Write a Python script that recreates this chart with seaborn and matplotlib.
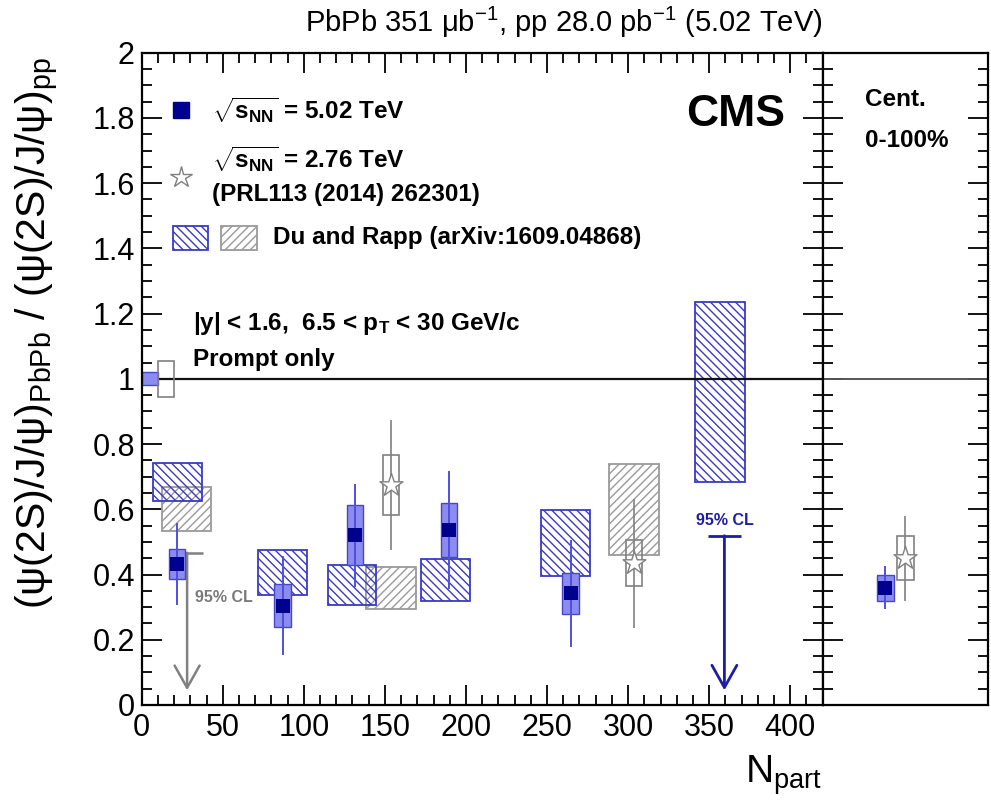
import matplotlib
matplotlib.use('Agg')
import matplotlib.pyplot as plt
import seaborn as sns
import pandas as pd
from matplotlib.patches import Rectangle
from matplotlib.ticker import MultipleLocator, FuncFormatter

# ------------------ data ------------------
npart_502 = [22.0, 86.9, 131.8, 189.5, 264.5]
ratio_502 = [0.432, 0.305, 0.521, 0.537, 0.343]
stat_502 = [0.125, 0.152, 0.158, 0.180, 0.164]
syst_502 = [0.047, 0.065, 0.092, 0.082, 0.063]

ul_npart_502 = [359.4]
ul_value_502 = [0.519]

npart_276 = [154.0, 303.5]
ratio_276 = [0.675, 0.435]
stat_276 = [0.200, 0.198]
syst_276 = [0.092, 0.070]

ul_npart_276 = [28.0]
ul_value_276 = [0.467]

# centrality integrated (0-100%)
int_ratio_502 = [0.36]
int_stat_502 = [0.065]
int_syst_502 = [0.040]
int_ratio_276 = [0.45]
int_stat_276 = [0.130]
int_syst_276 = [0.068]

# global (normalisation) uncertainties at ratio = 1
glob_502 = [0.02]
glob_276 = [0.055]

# Du and Rapp model bands
rapp502_xlo = [6.8, 71.9, 115.0, 172.5, 246.0, 341.5]
rapp502_xhi = [37.0, 101.7, 144.8, 202.3, 276.6, 371.9]
rapp502_ylo = [0.626, 0.337, 0.307, 0.320, 0.397, 0.683]
rapp502_yhi = [0.743, 0.475, 0.429, 0.447, 0.598, 1.237]
rapp276_xlo = [12.3, 138.6, 288.5]
rapp276_xhi = [42.7, 169.0, 319.3]
rapp276_ylo = [0.534, 0.294, 0.460]
rapp276_yhi = [0.667, 0.422, 0.739]

# ------------------ style ------------------
sns.set_theme(style='ticks')
plt.rcParams['font.family'] = ['Liberation Sans', 'DejaVu Sans']
plt.rcParams['mathtext.fontset'] = 'custom'
plt.rcParams['mathtext.rm'] = 'Liberation Sans'
plt.rcParams['mathtext.it'] = 'Liberation Sans:italic'
plt.rcParams['mathtext.bf'] = 'Liberation Sans:bold'
plt.rcParams['mathtext.sf'] = 'Liberation Sans'
plt.rcParams['hatch.linewidth'] = 1.0
plt.rcParams['xtick.color'] = 'black'
plt.rcParams['ytick.color'] = 'black'
plt.rcParams['text.color'] = 'black'

BLUE_DARK = '#00008f'
BLUE_FILL = '#8c8cf0'
BLUE_EDGE = '#4545d0'
BLUE_LINE = '#4f4fe0'
BLUE_HATCH = '#3a3ac4'
GREY = '#808080'
GREY_HATCH = '#9a9a9a'

fig = plt.figure(figsize=(9.91, 8.02), dpi=100)
ax = fig.add_axes([0.14299, 0.12095, 0.68779, 0.81334])
ax2 = fig.add_axes([0.83078, 0.12095, 0.16620, 0.81334], sharey=ax)

XMAX = 420.4
ax.set_xlim(0, XMAX)
ax.set_ylim(0, 2)
ax2.set_xlim(0, 1)

for a in (ax, ax2):
    for s in a.spines.values():
        s.set_linewidth(1.6)
        s.set_color('black')
        s.set_zorder(10)

# ---- Du and Rapp hatched bands ----
for x0, x1, y0, y1 in zip(rapp276_xlo, rapp276_xhi, rapp276_ylo, rapp276_yhi):
    ax.add_patch(Rectangle((x0, y0), x1 - x0, y1 - y0, facecolor='none',
                           edgecolor=GREY_HATCH, hatch='////', lw=1.3, zorder=2))
for x0, x1, y0, y1 in zip(rapp502_xlo, rapp502_xhi, rapp502_ylo, rapp502_yhi):
    ax.add_patch(Rectangle((x0, y0), x1 - x0, y1 - y0, facecolor='none',
                           edgecolor=BLUE_HATCH, hatch='\\\\\\\\', lw=1.3, zorder=2.5))

# ---- unity line ----
ax.axhline(1, color='#111111', lw=1.6, zorder=3)
ax2.axhline(1, color='#555555', lw=1.4, zorder=3)

# ---- global uncertainty boxes ----
ax.add_patch(Rectangle((0, 1 - glob_502[0]), 10, 2 * glob_502[0], facecolor=BLUE_FILL,
                       edgecolor=BLUE_EDGE, lw=1.0, zorder=4))
ax.add_patch(Rectangle((10, 1 - glob_276[0]), 10, 2 * glob_276[0], facecolor='none',
                       edgecolor=GREY, lw=1.2, zorder=4))

HW = 5.0  # half width of syst boxes in Npart units

# ---- 2.76 TeV points ----
for x, y, st, sy in zip(npart_276, ratio_276, stat_276, syst_276):
    ax.vlines(x, y - st, y + st, color=GREY, lw=1.2, zorder=4)
    ax.add_patch(Rectangle((x - HW, y - sy), 2 * HW, 2 * sy, facecolor='none',
                           edgecolor=GREY, lw=1.2, zorder=4))
df276 = pd.DataFrame({'npart': npart_276, 'ratio': ratio_276})
sns.scatterplot(data=df276, x='npart', y='ratio', marker='*', s=300, color='white',
                edgecolor=GREY, linewidth=1.0, ax=ax, zorder=6, legend=False)

# ---- 5.02 TeV points ----
for x, y, st, sy in zip(npart_502, ratio_502, stat_502, syst_502):
    ax.add_patch(Rectangle((x - HW, y - sy), 2 * HW, 2 * sy, facecolor=BLUE_FILL,
                           edgecolor=BLUE_EDGE, lw=1.0, zorder=5))
    ax.vlines(x, y - st, y + st, color=BLUE_LINE, lw=1.4, zorder=5.5)
df502 = pd.DataFrame({'npart': npart_502, 'ratio': ratio_502})
sns.scatterplot(data=df502, x='npart', y='ratio', marker='s', s=115, color=BLUE_DARK,
                edgecolor=BLUE_DARK, linewidth=0, ax=ax, zorder=7, legend=False)

# ---- upper limits ----
ARROW_END = 0.045
for x, lim in zip(ul_npart_276, ul_value_276):
    ax.hlines(lim, x - 10, x + 10, color=GREY, lw=1.8, zorder=4.5)
    ax.annotate('', xy=(x, ARROW_END), xytext=(x, lim),
                arrowprops=dict(arrowstyle='->,head_length=0.8,head_width=0.45',
                                color=GREY, lw=1.8, mutation_scale=20,
                                shrinkA=0, shrinkB=0), zorder=4.5)
    ax.text(x + 4.8, 0.33, '95% CL', color='#7a7a7a', fontsize=11.5,
            fontweight='bold', ha='left', va='center', zorder=6)
for x, lim in zip(ul_npart_502, ul_value_502):
    ax.hlines(lim, x - 10, x + 10, color='#1c1ca8', lw=2.0, zorder=4.5)
    ax.annotate('', xy=(x, ARROW_END), xytext=(x, lim),
                arrowprops=dict(arrowstyle='->,head_length=0.8,head_width=0.45',
                                color='#1c1ca8', lw=2.0, mutation_scale=20,
                                shrinkA=0, shrinkB=0), zorder=4.5)
    ax.text(x, 0.567, '95% CL', color='#1c1ca8', fontsize=11.5,
            fontweight='bold', ha='center', va='center', zorder=6)

# ---- integrated panel ----
POS502, POS276, HW2 = 0.376, 0.497, 0.052
for y, st, sy in zip(int_ratio_276, int_stat_276, int_syst_276):
    ax2.vlines(POS276, y - st, y + st, color=GREY, lw=1.2, zorder=4)
    ax2.add_patch(Rectangle((POS276 - HW2, y - sy), 2 * HW2, 2 * sy, facecolor='none',
                            edgecolor=GREY, lw=1.2, zorder=4))
sns.scatterplot(x=[POS276] * len(int_ratio_276), y=int_ratio_276, marker='*', s=300,
                color='white', edgecolor=GREY, linewidth=1.0, ax=ax2, zorder=6, legend=False)
for y, st, sy in zip(int_ratio_502, int_stat_502, int_syst_502):
    ax2.add_patch(Rectangle((POS502 - HW2, y - sy), 2 * HW2, 2 * sy, facecolor=BLUE_FILL,
                            edgecolor=BLUE_EDGE, lw=1.0, zorder=5))
    ax2.vlines(POS502, y - st, y + st, color=BLUE_LINE, lw=1.4, zorder=5.5)
sns.scatterplot(x=[POS502] * len(int_ratio_502), y=int_ratio_502, marker='s', s=115,
                color=BLUE_DARK, edgecolor=BLUE_DARK, linewidth=0, ax=ax2, zorder=7,
                legend=False)

# ---- ticks ----
ax.set_xlabel('')
ax.set_ylabel('')
ax2.set_xlabel('')
ax2.set_ylabel('')
ax.xaxis.set_major_locator(MultipleLocator(50))
ax.xaxis.set_minor_locator(MultipleLocator(10))
ax.yaxis.set_major_locator(MultipleLocator(0.2))
ax.yaxis.set_minor_locator(MultipleLocator(0.05))
ax.yaxis.set_major_formatter(FuncFormatter(lambda v, p: ('%g' % round(v, 2))))
ax.xaxis.set_major_formatter(FuncFormatter(lambda v, p: ('%d' % round(v))))
ax.tick_params(axis='both', which='both', direction='in', bottom=True, top=True,
               left=True, right=True, color='black')
ax.tick_params(axis='both', which='major', length=14.5, width=1.3, labelsize=22)
ax.tick_params(axis='both', which='minor', length=7.2, width=1.3)
ax.tick_params(axis='x', which='major', pad=6)
ax.tick_params(axis='y', which='major', pad=5)

ax2.tick_params(axis='x', which='both', bottom=False, top=False, labelbottom=False)
ax2.tick_params(axis='y', which='both', direction='in', left=True, right=True,
                labelleft=False, labelright=False, color='black')
ax2.tick_params(axis='y', which='major', length=14.5, width=1.3)
ax2.tick_params(axis='y', which='minor', length=7.2, width=1.3)

# ---- legend (manual, axes coordinates) ----
ax.plot([0.058], [0.912], marker='s', ms=11.5, color=BLUE_DARK, ls='none',
        transform=ax.transAxes, clip_on=False)
ax.text(0.103, 0.912, r'$\sqrt{\mathbf{s}_{\mathbf{NN}}}$ = 5.02 TeV', transform=ax.transAxes,
        fontsize=17.5, fontweight='bold', ha='left', va='center')
ax.plot([0.058], [0.810], marker='*', ms=16, markerfacecolor='white',
        markeredgecolor=GREY, markeredgewidth=1.0, ls='none', transform=ax.transAxes)
ax.text(0.103, 0.836, r'$\sqrt{\mathbf{s}_{\mathbf{NN}}}$ = 2.76 TeV', transform=ax.transAxes,
        fontsize=17.5, fontweight='bold', ha='left', va='center')
ax.text(0.103, 0.782, '(PRL113 (2014) 262301)', transform=ax.transAxes,
        fontsize=17.5, fontweight='bold', ha='left', va='center')
ax.add_patch(Rectangle((0.0455, 0.698), 0.052, 0.037, transform=ax.transAxes,
                       facecolor='none', edgecolor=BLUE_HATCH, hatch='\\\\\\\\', lw=1.3))
ax.add_patch(Rectangle((0.117, 0.698), 0.052, 0.037, transform=ax.transAxes,
                       facecolor='none', edgecolor=GREY_HATCH, hatch='////', lw=1.3))
ax.text(0.192, 0.716, 'Du and Rapp (arXiv:1609.04868)', transform=ax.transAxes,
        fontsize=17.5, fontweight='bold', ha='left', va='center')

ax.text(0.0753, 0.585, r'|y| < 1.6,  6.5 < $\mathbf{p_{T}}$ < 30 GeV/c',
        transform=ax.transAxes, fontsize=17.5, fontweight='bold', ha='left', va='center')
ax.text(0.0753, 0.529, 'Prompt only', transform=ax.transAxes, fontsize=17.5,
        fontweight='bold', ha='left', va='center')

ax.text(0.944, 0.905, 'CMS', transform=ax.transAxes, fontsize=32, fontweight='bold',
        ha='right', va='center')

ax2.text(0.253, 0.9275, 'Cent.', transform=ax2.transAxes, fontsize=17.5,
         fontweight='bold', ha='left', va='center')
ax2.text(0.253, 0.866, '0-100%', transform=ax2.transAxes, fontsize=17.5,
         fontweight='bold', ha='left', va='center')

# ---- titles / axis labels ----
fig.text(822 / 991, 1 - 22 / 802, r'PbPb 351 μb$^{-1}$, pp 28.0 pb$^{-1}$ (5.02 TeV)',
         fontsize=21, ha='right', va='center')
fig.text(822 / 991, 1 - 775 / 802, r'$\mathrm{N_{part}}$', fontsize=28,
         ha='right', va='center')
fig.text(38 / 991, 1 - 333 / 802,
         r'$\mathrm{(ψ(2S)/J/ψ)_{PbPb}\ /\ (ψ(2S)/J/ψ)_{pp}}$',
         fontsize=29.5, rotation=90, ha='center', va='center')

fig.savefig('out.png', dpi=100)
